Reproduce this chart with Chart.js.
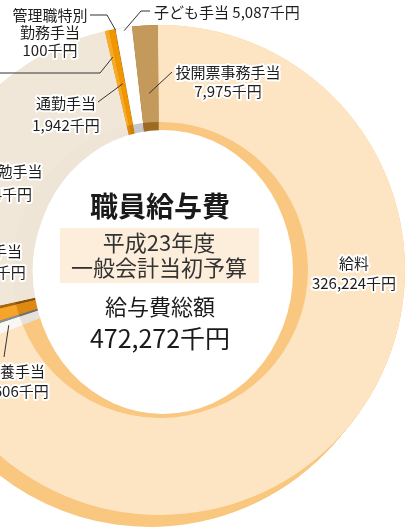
<!DOCTYPE html>
<html>
<head>
<meta charset="utf-8">
<script src="https://cdn.jsdelivr.net/npm/chart.js@4/dist/chart.umd.min.js"></script>
<style>
  html, body { margin: 0; padding: 0; background: #fff; width: 412px; height: 531px; overflow: hidden; }
  #wrap { position: absolute; left: -89px; top: 0; width: 498px; height: 540px; }
</style>
</head>
<body>
<div id="wrap"><canvas id="myChart"></canvas></div>
<script>
// 職員給与費 平成23年度 一般会計当初予算 (千円)
const categories = ["給料", "扶養手当", "住居手当", "地域手当", "特殊勤務手当", "期末・勤勉手当",
  "時間外勤務手当", "通勤手当", "管理職特別勤務手当", "子ども手当", "投開票事務手当"];
const amounts = [326224, 4606, 1100, 5304, 1200, 117434, 1300, 1942, 100, 5087, 7975];
const topColors = ["#fde5c4", "#f9f7f3", "#8f8f8f", "#f6a52a", "#a5660f", "#f1e7d9",
  "#f7a928", "#f29600", "#8a5514", "#ffffff", "#c39a5c"];
const sideColors = ["#f9c77f", "#e6e1da", "#707070", "#dc8a12", "#87520c", "#efe5d6",
  "#d98a12", "#d47f00", "#6f430e", "#c8c8c8", "#9c6a22"];
const totalText = "472,272千円";

const FONT = '"Noto Sans CJK JP", "Noto Sans", sans-serif';
const fmt = (v) => v.toLocaleString("en-US") + "千円";

// 3D look
const depthX = -10, depthY = 12, depthSteps = 14, wallRatio = 0.52;

// label positions relative to the doughnut centre
const labelLayout = [
  { i: 0, lines: ["給料"], x: 194, y: -7, lh: 20 },
  { i: 1, lines: ["扶養手当"], x: -145, y: 101, lh: 20 },
  { i: 3, lines: ["地域手当"], x: -168, y: -19, lh: 21 },
  { i: 5, lines: ["期末・勤勉手当"], x: -170, y: -99, lh: 23 },
  { i: 6, lines: ["時間外勤務手当"], x: -240, y: -205, lh: 20 },
  { i: 7, lines: ["通勤手当"], x: -94, y: -167, lh: 22 },
  { i: 8, lines: ["管理職特別", "勤務手当"], x: -110, y: -255, lh: 17.5 },
  { i: 10, lines: ["投開票事務手当"], x: 68, y: -198, lh: 19 },
];
const leaders = [
  { i: 9, pts: [[-10, -259], [-19, -259]], r: 242 },
  { i: 8, pts: [[-70, -255], [-53, -255]], r: 244 },
  { i: 6, pts: [[-200, -197], [-60, -197]], r: 218 },
  { i: 7, pts: [[-62, -168]], r: 190 },
  { i: 10, pts: [[12, -198]], r: 177 },
  { i: 1, pts: [[-156, 87]], r: 161 },
];

function haloText(ctx, txt, x, y, align) {
  ctx.textAlign = align;
  ctx.textBaseline = "middle";
  ctx.lineJoin = "round";
  ctx.lineWidth = 4;
  ctx.strokeStyle = "#fff";
  ctx.strokeText(txt, x, y);
  ctx.fillStyle = "#1e1e1e";
  ctx.fillText(txt, x, y);
}

const solid = {
  id: "solid",
  beforeDatasetsDraw(chart) {
    const ctx = chart.ctx;
    const arcs = chart.getDatasetMeta(0).data;
    ctx.save();
    for (let s = depthSteps; s >= 0; s--) {
      const ox = depthX * s / depthSteps;
      const oy = depthY * s / depthSteps;
      arcs.forEach((arc, i) => {
        const p = arc.getProps(["x", "y", "startAngle", "endAngle", "outerRadius"]);
        ctx.beginPath();
        ctx.arc(p.x + ox, p.y + oy, p.outerRadius, p.startAngle, p.endAngle);
        ctx.arc(p.x + ox, p.y + oy, p.outerRadius * wallRatio, p.endAngle, p.startAngle, true);
        ctx.closePath();
        ctx.fillStyle = sideColors[i];
        ctx.fill();
      });
    }
    ctx.restore();
  },
  afterDatasetsDraw(chart) {
    const ctx = chart.ctx;
    const arcs = chart.getDatasetMeta(0).data;
    const { x: cx, y: cy } = arcs[0].getProps(["x", "y"]);
    ctx.save();

    // centre disc
    ctx.beginPath();
    ctx.ellipse(cx + 3, cy + 2, 130, 142, 0, 0, Math.PI * 2);
    ctx.fillStyle = "#fff";
    ctx.fill();

    ctx.textAlign = "center";
    ctx.textBaseline = "middle";
    ctx.fillStyle = "#1a1a1a";
    ctx.font = "bold 28px " + FONT;
    ctx.fillText("職員給与費", cx, cy - 64);
    ctx.fillStyle = "#fdeedb";
    ctx.fillRect(cx - 100, cy - 42, 199, 55);
    ctx.fillStyle = "#333";
    ctx.font = "22px " + FONT;
    ctx.fillText("平成23年度", cx - 1, cy - 27);
    ctx.fillText("一般会計当初予算", cx - 1, cy - 2);
    ctx.fillStyle = "#1a1a1a";
    ctx.fillText("給与費総額", cx, cy + 37);
    ctx.font = "25px " + FONT;
    ctx.fillText(totalText, cx, cy + 68);

    // leader lines
    ctx.strokeStyle = "#333";
    ctx.lineWidth = 1;
    leaders.forEach((l) => {
      const a = arcs[l.i].getProps(["startAngle", "endAngle"]);
      const mid = (a.startAngle + a.endAngle) / 2;
      ctx.beginPath();
      l.pts.forEach((p, k) => {
        if (k === 0) ctx.moveTo(cx + p[0], cy + p[1]);
        else ctx.lineTo(cx + p[0], cy + p[1]);
      });
      ctx.lineTo(cx + l.r * Math.cos(mid), cy + l.r * Math.sin(mid));
      ctx.stroke();
    });

    // labels
    ctx.font = "15px " + FONT;
    labelLayout.forEach((l) => {
      const lines = l.lines.concat([fmt(amounts[l.i])]);
      lines.forEach((t, k) => haloText(ctx, t, cx + l.x, cy + l.y + k * l.lh, "center"));
    });
    haloText(ctx, categories[9] + " " + fmt(amounts[9]), cx - 6, cy - 258, "left");
    ctx.restore();
  },
};

const newChart = new Chart(document.getElementById("myChart"), {
  type: "doughnut",
  data: {
    labels: categories,
    datasets: [
      {
        data: amounts,
        backgroundColor: topColors,
        borderWidth: 0,
        hoverOffset: 0,
        offset: 0,
      },
    ],
  },
  options: {
    responsive: true,
    maintainAspectRatio: false,
    animation: false,
    events: [],
    rotation: -0.5,
    cutout: "60.4%",
    layout: { padding: { top: 25, bottom: 25, left: 4, right: 4 } },
    plugins: { legend: { display: false }, tooltip: { enabled: false } },
  },
  plugins: [solid],
});
</script>
</body>
</html>
